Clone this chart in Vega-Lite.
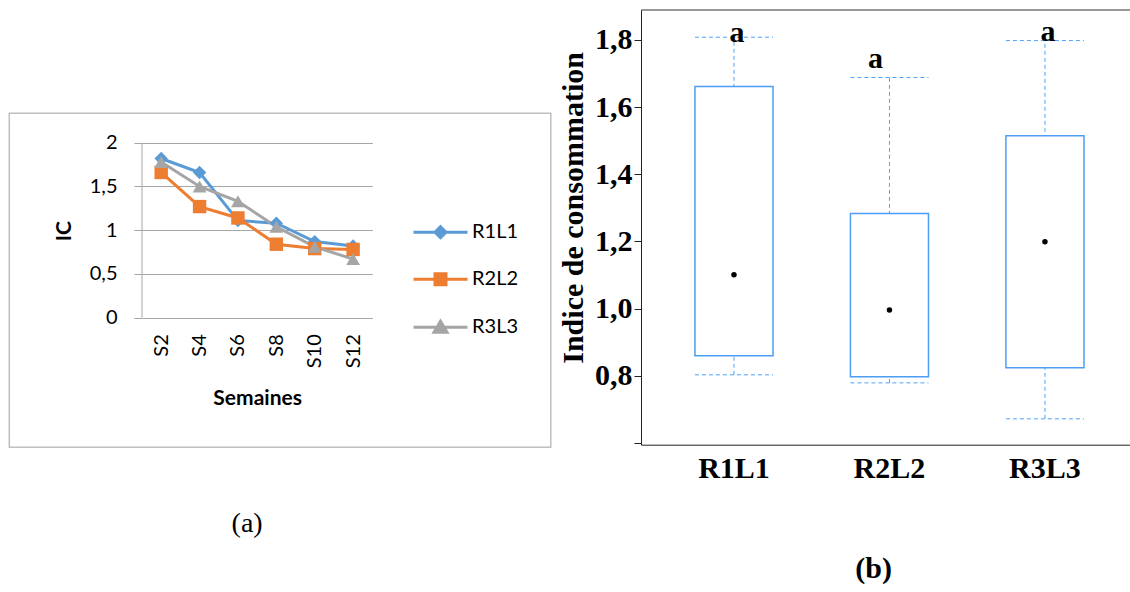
{
  "$schema": "https://vega.github.io/schema/vega-lite/v6.json",
  "background": "white",
  "padding": {"left": 8, "top": 9, "right": 0, "bottom": 0},
  "spacing": 5,
  "config": {"view": {"stroke": null}},
  "hconcat": [
    {
      "width": 230.3,
      "height": 307.7,
      "title": {"text": "(a)", "orient": "bottom", "offset": 62, "dx": -10, "font": "Liberation Serif", "fontSize": 28, "fontWeight": "normal", "color": "#000000"},
      "layer": [
        {
          "data": {"values": [{}]},
          "mark": {"type": "rect", "filled": false, "fill": null, "stroke": "#bfbfbf", "strokeWidth": 1.5},
          "encoding": {
            "x": {"datum": -5.915, "type": "quantitative", "scale": {"domain": [1, 13], "nice": false, "zero": false}, "title": "Semaines"},
            "x2": {"datum": 22.3},
            "y": {"datum": -1.48, "type": "quantitative", "scale": {"domain": [0, 3.517], "nice": false, "zero": false}, "title": "IC"},
            "y2": {"datum": 2.337}
          }
        },
        {
          "data": {"values": [{}]},
          "mark": {"type": "rule", "color": "#a6a6a6", "strokeWidth": 1},
          "encoding": {
            "x": {"datum": 1, "type": "quantitative", "scale": {"domain": [1, 13], "nice": false, "zero": false}, "title": "Semaines"},
            "y": {"datum": 0, "type": "quantitative", "scale": {"domain": [0, 3.517], "nice": false, "zero": false}, "title": "IC"},
            "y2": {"datum": 2}
          }
        },
        {
          "data": {"name": "ic"},
          "mark": {"type": "line", "strokeWidth": 3},
          "encoding": {
            "x": {"field": "semaine", "type": "quantitative", "scale": {"domain": [1, 13], "nice": false, "zero": false}, "title": "Semaines",
              "axis": {"values": [2, 4, 6, 8, 10, 12], "labelExpr": "'S' + datum.value", "labelAngle": 270, "labelFont": "Lato", "labelFontSize": 20, "labelColor": "#000000", "labelPadding": 16, "ticks": false, "domain": false, "grid": false, "titleFont": "Lato", "titleFontSize": 21, "titleFontWeight": "bold", "titleColor": "#000000", "titlePadding": 20, "zindex": 1}},
            "y": {"field": "ic", "type": "quantitative", "scale": {"domain": [0, 3.517], "nice": false, "zero": false}, "title": "IC",
              "axis": {"values": [0, 0.5, 1, 1.5, 2], "labelExpr": "replace(toString(datum.value), '.', ',')", "labelFont": "Lato", "labelFontSize": 20, "labelColor": "#000000", "labelPadding": 17, "ticks": true, "tickSize": 8, "tickColor": "#a6a6a6", "domain": false, "grid": true, "gridColor": "#a6a6a6", "titleFont": "Lato", "titleFontSize": 21, "titleFontWeight": "bold", "titleColor": "#000000", "titleAngle": 270, "titleBaseline": "alphabetic", "titleAlign": "center", "titleX": -71.7, "titleY": 220.7}},
            "color": {"field": "serie", "type": "nominal", "scale": {"domain": ["R1L1", "R2L2", "R3L3"], "range": ["#5B9BD5", "#ED7D31", "#A5A5A5"]},
              "legend": {"orient": "none", "legendX": 287, "legendY": 210.7, "title": null, "symbolSize": 400, "symbolStrokeWidth": 3, "labelFont": "Lato", "labelFontSize": 20, "labelColor": "#000000", "labelOffset": 20, "rowPadding": 24,
                "encode": {"symbols": {"update": {
                  "shape": {"signal": "datum.value === 'R1L1' ? 'M-2.7,0H2.7M0,-0.55L0.55,0L0,0.55L-0.55,0Z' : datum.value === 'R2L2' ? 'M-2.7,0H2.7M-0.55,-0.55H0.55V0.55H-0.55Z' : 'M-2.7,0H2.7M0,-0.6L0.65,0.5L-0.65,0.5Z'"},
                  "fill": {"signal": "datum.value === 'R1L1' ? '#5B9BD5' : datum.value === 'R2L2' ? '#ED7D31' : '#A5A5A5'"},
                  "stroke": {"signal": "datum.value === 'R1L1' ? '#5B9BD5' : datum.value === 'R2L2' ? '#ED7D31' : '#A5A5A5'"},
                  "strokeWidth": {"value": 3},
                  "opacity": {"value": 1}
                }}}}}
          }
        },
        {
          "data": {"name": "ic"},
          "transform": [{"filter": "datum.serie === 'R1L1'"}],
          "mark": {"type": "point", "filled": true, "shape": "diamond", "size": 180, "color": "#5B9BD5", "opacity": 1},
          "encoding": {
            "x": {"field": "semaine", "type": "quantitative", "scale": {"domain": [1, 13], "nice": false, "zero": false}, "title": "Semaines"},
            "y": {"field": "ic", "type": "quantitative", "scale": {"domain": [0, 3.517], "nice": false, "zero": false}, "title": "IC"}
          }
        },
        {
          "data": {"name": "ic"},
          "transform": [{"filter": "datum.serie === 'R2L2'"}],
          "mark": {"type": "point", "filled": true, "shape": "square", "size": 180, "color": "#ED7D31", "opacity": 1},
          "encoding": {
            "x": {"field": "semaine", "type": "quantitative", "scale": {"domain": [1, 13], "nice": false, "zero": false}, "title": "Semaines"},
            "y": {"field": "ic", "type": "quantitative", "scale": {"domain": [0, 3.517], "nice": false, "zero": false}, "title": "IC"}
          }
        },
        {
          "data": {"name": "ic"},
          "transform": [{"filter": "datum.serie === 'R3L3'"}],
          "mark": {"type": "point", "filled": true, "shape": "triangle-up", "size": 190, "color": "#A5A5A5", "opacity": 1},
          "encoding": {
            "x": {"field": "semaine", "type": "quantitative", "scale": {"domain": [1, 13], "nice": false, "zero": false}, "title": "Semaines"},
            "y": {"field": "ic", "type": "quantitative", "scale": {"domain": [0, 3.517], "nice": false, "zero": false}, "title": "IC"}
          }
        }
      ]
    },
    {
      "width": 489.3,
      "height": 434.7,
      "title": {"text": "(b)", "orient": "bottom", "offset": 70, "dx": -12, "font": "Liberation Serif", "fontSize": 30, "fontWeight": "bold", "color": "#000000"},
      "data": {"name": "boites"},
      "layer": [
        {
          "mark": {"type": "rule", "strokeDash": [4, 3], "color": "#4ea4fa", "strokeWidth": 1},
          "encoding": {
            "x": {"field": "groupe", "type": "nominal", "sort": null, "scale": {"type": "band", "domain": ["R1L1", "R2L2", "R3L3"], "paddingInner": 0.498, "paddingOuter": 0.3225, "align": 0.538},
              "axis": {"title": null, "labelAngle": 0, "labelFont": "Liberation Serif", "labelFontSize": 30, "labelFontWeight": "bold", "labelColor": "#000000", "labelPadding": 9, "ticks": false, "domainColor": "#222222", "grid": false}},
            "y": {"field": "bas", "type": "quantitative", "scale": {"domain": [0.595, 1.889], "nice": false, "zero": false},
              "axis": {"title": "Indice de consommation", "values": [0.6, 0.8, 1.0, 1.2, 1.4, 1.6, 1.8], "labelExpr": "datum.value < 0.7 ? '' : replace(format(datum.value, '.1f'), '.', ',')", "labelFont": "Liberation Serif", "labelFontSize": 30, "labelFontWeight": "bold", "labelColor": "#000000", "labelPadding": 2, "tickSize": 7, "tickColor": "#222222", "domainColor": "#222222", "grid": false, "titleFont": "Liberation Serif", "titleFontSize": 30, "titleFontWeight": "bold", "titleColor": "#000000", "titleAngle": 270, "titleBaseline": "alphabetic", "titleAlign": "center", "titleX": -59, "titleY": 197.4}},
            "y2": {"field": "haut"}
          }
        },
        {
          "mark": {"type": "bar", "fill": "white", "stroke": "#4c9ef5", "strokeWidth": 1.5},
          "encoding": {
            "x": {"field": "groupe", "type": "nominal", "sort": null},
            "y": {"field": "q1", "type": "quantitative"},
            "y2": {"field": "q3"}
          }
        },
        {
          "mark": {"type": "rule", "strokeDash": [4, 3], "color": "#4ea4fa", "strokeWidth": 1},
          "encoding": {
            "x": {"field": "groupe", "type": "nominal", "sort": null, "bandPosition": 0},
            "x2": {"field": "groupe", "bandPosition": 1},
            "y": {"field": "haut", "type": "quantitative"}
          }
        },
        {
          "mark": {"type": "rule", "strokeDash": [4, 3], "color": "#4ea4fa", "strokeWidth": 1},
          "encoding": {
            "x": {"field": "groupe", "type": "nominal", "sort": null, "bandPosition": 0},
            "x2": {"field": "groupe", "bandPosition": 1},
            "y": {"field": "bas", "type": "quantitative"}
          }
        },
        {
          "mark": {"type": "point", "filled": true, "color": "#000000", "size": 30, "opacity": 1},
          "encoding": {
            "x": {"field": "groupe", "type": "nominal", "sort": null},
            "y": {"field": "centre", "type": "quantitative"}
          }
        },
        {
          "transform": [{"filter": "datum.groupe !== 'R2L2'"}],
          "mark": {"type": "text", "font": "Liberation Serif", "fontSize": 30, "fontWeight": "bold", "baseline": "alphabetic", "dx": 3, "color": "#000000"},
          "encoding": {
            "x": {"field": "groupe", "type": "nominal", "sort": null},
            "y": {"field": "lettre_y", "type": "quantitative"},
            "text": {"field": "lettre"}
          }
        },
        {
          "transform": [{"filter": "datum.groupe === 'R2L2'"}],
          "mark": {"type": "text", "font": "Liberation Serif", "fontSize": 30, "fontWeight": "bold", "baseline": "alphabetic", "dx": -14, "color": "#000000"},
          "encoding": {
            "x": {"field": "groupe", "type": "nominal", "sort": null},
            "y": {"field": "lettre_y", "type": "quantitative"},
            "text": {"field": "lettre"}
          }
        },
        {
          "data": {"values": [{}]},
          "mark": {"type": "rule", "color": "#333333", "strokeWidth": 1},
          "encoding": {
            "y": {"datum": 1.889, "type": "quantitative"}
          }
        }
      ]
    }
  ],
  "datasets": {
    "ic": [
      {"serie": "R1L1", "semaine": 2, "ic": 1.82},
      {"serie": "R1L1", "semaine": 4, "ic": 1.66},
      {"serie": "R1L1", "semaine": 6, "ic": 1.11},
      {"serie": "R1L1", "semaine": 8, "ic": 1.08},
      {"serie": "R1L1", "semaine": 10, "ic": 0.87},
      {"serie": "R1L1", "semaine": 12, "ic": 0.82},
      {"serie": "R2L2", "semaine": 2, "ic": 1.66},
      {"serie": "R2L2", "semaine": 4, "ic": 1.27},
      {"serie": "R2L2", "semaine": 6, "ic": 1.14},
      {"serie": "R2L2", "semaine": 8, "ic": 0.84},
      {"serie": "R2L2", "semaine": 10, "ic": 0.79},
      {"serie": "R2L2", "semaine": 12, "ic": 0.78},
      {"serie": "R3L3", "semaine": 2, "ic": 1.78},
      {"serie": "R3L3", "semaine": 4, "ic": 1.50},
      {"serie": "R3L3", "semaine": 6, "ic": 1.33},
      {"serie": "R3L3", "semaine": 8, "ic": 1.04},
      {"serie": "R3L3", "semaine": 10, "ic": 0.81},
      {"serie": "R3L3", "semaine": 12, "ic": 0.67}
    ],
    "boites": [
      {"groupe": "R1L1", "bas": 0.803, "q1": 0.860, "centre": 1.101, "q3": 1.661, "haut": 1.808, "lettre": "a", "lettre_y": 1.795},
      {"groupe": "R2L2", "bas": 0.779, "q1": 0.797, "centre": 0.996, "q3": 1.283, "haut": 1.688, "lettre": "a", "lettre_y": 1.717},
      {"groupe": "R3L3", "bas": 0.672, "q1": 0.824, "centre": 1.199, "q3": 1.515, "haut": 1.798, "lettre": "a", "lettre_y": 1.798}
    ]
  }
}
